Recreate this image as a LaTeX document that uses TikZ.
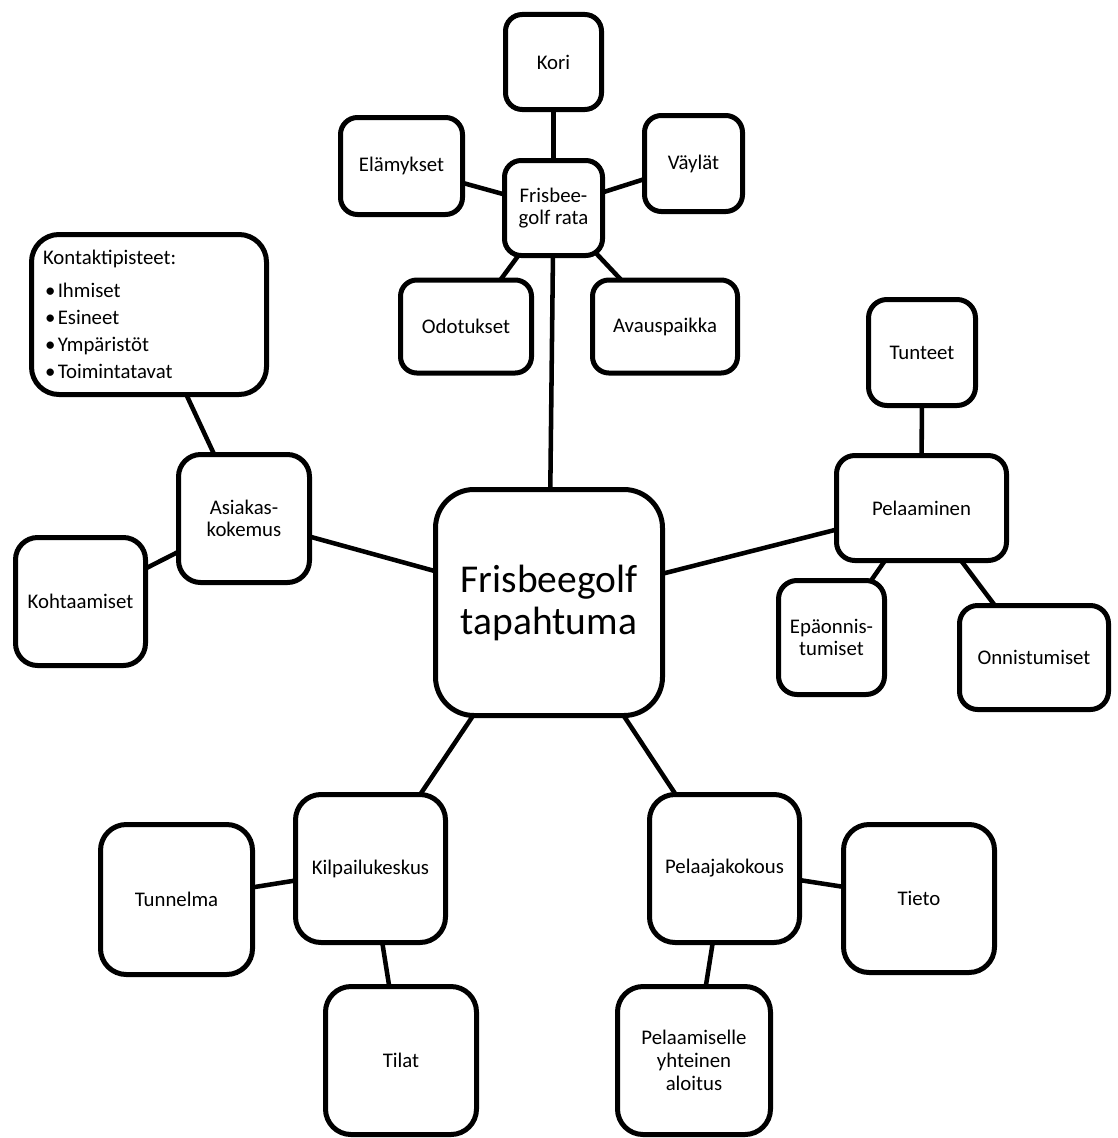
\documentclass[tikz,border=0pt]{standalone}
\usepackage{fontspec}
\setmainfont{Carlito}
\usetikzlibrary{backgrounds}
\newcommand{\listitem}[1]{\hspace{1.5pt}•\hspace{1.8pt}#1}
\begin{document}
\begin{tikzpicture}[x=0.75pt,y=-0.75pt,
  box/.style 2 args={draw, line width=3.75pt, fill=white, align=center, inner sep=0pt,
    minimum width={(#1-5)*0.75pt}, minimum height={(#2-5)*0.75pt},
    rounded corners={min(#1,#2)/6*0.75pt},
    font=\fontsize{15.6pt}{17pt}\selectfont},
  link/.style={line width=3.4pt}]
\useasboundingbox (0,0) rectangle (1117,1138);

% central topic
\node[box={232}{231}, font=\fontsize{29.6pt}{31.5pt}\selectfont] (main) at (549,602.5) {Frisbeegolf\\tapahtuma};

% course branch
\node[box={103}{100}] (rata) at (553.5,208) {Frisbee-\\golf rata};
\node[box={101}{100}] (kori) at (553.5,62) {Kori};
\node[box={127}{102}] (elamykset) at (401.5,166) {Elämykset};
\node[box={103}{101}] (vaylat) at (693.5,163.5) {Väylät};
\node[box={136}{98}] (odotukset) at (466,326.5) {Odotukset};
\node[box={150}{98}] (avaus) at (665,326.5) {Avauspaikka};

% customer experience branch
\node[box={136}{133}] (asiakas) at (244,518.5) {Asiakas-\\kokemus};
\node[box={135}{133}] (kohtaamiset) at (80.5,601.5) {Kohtaamiset};
\node[box={240}{165}, align=left, text width=212*0.75pt] (kontakti) at (149,314.5)
  {Kontaktipisteet:\\[7.75pt]\listitem{Ihmiset}\\[3.25pt]\listitem{Esineet}\\[3.25pt]\listitem{Ympäristöt}\\[3.25pt]\listitem{Toimintatavat}};

% playing branch
\node[box={175}{110}] (pelaaminen) at (921.5,508) {Pelaaminen};
\node[box={112}{111}] (tunteet) at (922,352.5) {Tunteet};
\node[box={111}{119}] (epaonn) at (831.5,637.5) {Epäonnis-\\tumiset};
\node[box={154}{109}] (onn) at (1034,657.5) {Onnistumiset};

% competition centre branch
\node[box={155}{153}] (kilpailu) at (370.5,868.5) {Kilpailukeskus};
\node[box={157}{155}] (tunnelma) at (176.5,899.5) {Tunnelma};
\node[box={156}{153}] (tilat) at (401,1060.5) {Tilat};

% players' meeting branch
\node[box={155}{153}] (kokous) at (724.5,868.5) {Pelaajakokous};
\node[box={156}{153}] (tieto) at (919,898.5) {Tieto};
\node[box={158}{153}] (aloitus) at (694,1060.5) {Pelaamiselle\\yhteinen\\aloitus};

% connectors run behind the filled boxes
\begin{pgfonlayer}{background}
\draw[link] (main.center) -- (rata.center);
\draw[link] (rata.center) -- (kori.center);
\draw[link] (rata.center) -- (elamykset.center);
\draw[link] (rata.center) -- (vaylat.center);
\draw[link] (rata.center) -- (odotukset.center);
\draw[link] (rata.center) -- (avaus.center);
\draw[link] (main.center) -- (asiakas.center);
\draw[link] (asiakas.center) -- (kohtaamiset.center);
\draw[link] (asiakas.center) -- (kontakti.center);
\draw[link] (main.center) -- (pelaaminen.center);
\draw[link] (pelaaminen.center) -- (tunteet.center);
\draw[link] (pelaaminen.center) -- (epaonn.center);
\draw[link] (pelaaminen.center) -- (onn.center);
\draw[link] (main.center) -- (kilpailu.center);
\draw[link] (kilpailu.center) -- (tunnelma.center);
\draw[link] (kilpailu.center) -- (tilat.center);
\draw[link] (main.center) -- (kokous.center);
\draw[link] (kokous.center) -- (tieto.center);
\draw[link] (kokous.center) -- (aloitus.center);
\end{pgfonlayer}
\end{tikzpicture}
\end{document}
